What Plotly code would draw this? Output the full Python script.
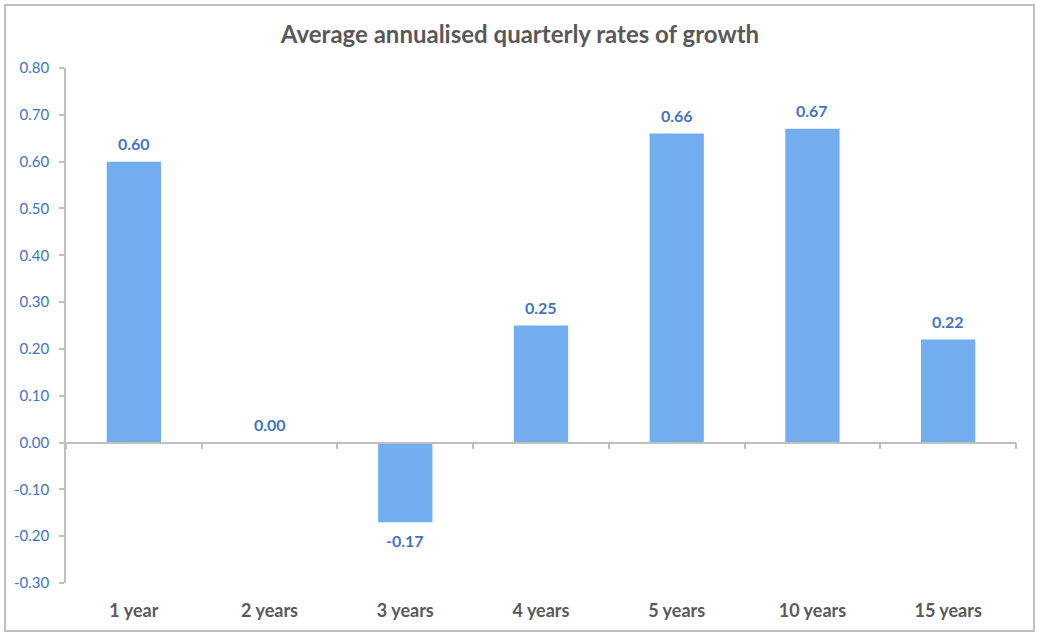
import plotly.graph_objects as go

categories = ["1 year", "2 years", "3 years", "4 years", "5 years", "10 years", "15 years"]
values = [0.60, 0.00, -0.17, 0.25, 0.66, 0.67, 0.22]
y_ticks = [-0.3, -0.2, -0.1, 0.0, 0.1, 0.2, 0.3, 0.4, 0.5, 0.6, 0.7, 0.8]
title_text = "Average annualised quarterly rates of growth"

FONT = "Lato, 'Open Sans', sans-serif"
BLUE_TXT = "#3f74c4"
GRAY_TXT = "#595959"
AXIS_GRAY = "#bfbfbf"

y_min, y_max = -0.3, 0.8
zero_pos = (0 - y_min) / (y_max - y_min)

fig = go.Figure()
fig.add_trace(go.Bar(
    x=categories,
    y=values,
    cliponaxis=False,
    marker=dict(color="#72aeee", line=dict(width=0)),
    width=0.4,
    hoverinfo="x+y",
))

annotations = []
for c, v in zip(categories, values):
    annotations.append(dict(
        x=c, y=v, xref="x", yref="y",
        text=f"{v:.2f}", showarrow=False,
        yanchor="top" if v < 0 else "bottom",
        yshift=-7 if v < 0 else 7,
        font=dict(family=FONT, size=16, color=BLUE_TXT, weight="bold"),
    ))

fig.update_layout(
    width=1040, height=634,
    margin=dict(l=66, r=24, t=68, b=51),
    paper_bgcolor="white", plot_bgcolor="white",
    showlegend=False,
    title=dict(text=title_text, x=0.5, xref="container", xanchor="center",
               y=0.945, yanchor="middle",
               font=dict(family=FONT, size=24, color=GRAY_TXT, weight="bold")),
    font=dict(family=FONT),
    xaxis=dict(
        anchor="free", position=zero_pos,
        showline=True, linecolor=AXIS_GRAY, linewidth=1.5,
        ticks="outside", tickson="boundaries", ticklen=6, tickcolor=AXIS_GRAY, tickwidth=1.5,
        ticklabelstandoff=152,
        tickfont=dict(family=FONT, size=18, color=GRAY_TXT, weight="bold"),
        showgrid=False, zeroline=False,
    ),
    yaxis=dict(
        range=[y_min, y_max],
        tickvals=y_ticks,
        ticktext=[f"{v:.2f}" for v in y_ticks],
        showline=True, linecolor=AXIS_GRAY, linewidth=1.5,
        ticks="outside", ticklen=5, tickcolor=AXIS_GRAY, tickwidth=1.5,
        ticklabelstandoff=7,
        tickfont=dict(family=FONT, size=15, color=BLUE_TXT),
        showgrid=False, zeroline=False,
    ),
    annotations=annotations,
    shapes=[dict(type="rect", xref="paper", yref="paper",
                 x0=-0.0642, x1=1.0189, y0=-0.0932, y1=1.1223,
                 line=dict(color=AXIS_GRAY, width=2), fillcolor="rgba(0,0,0,0)", layer="below")],
)

fig.write_html("out.html", config={"displayModeBar": False},
               post_script="document.body.style.margin='0';document.body.style.overflow='hidden';")
